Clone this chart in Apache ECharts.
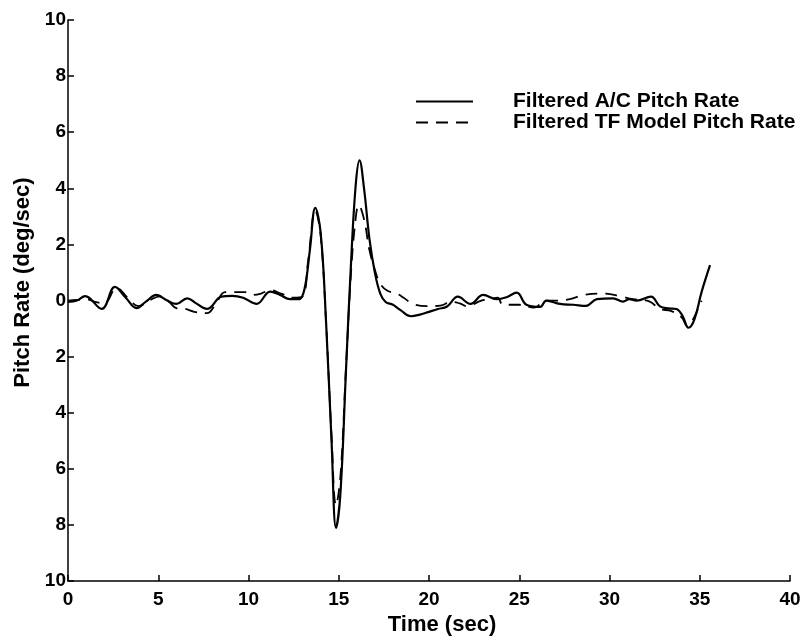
<!DOCTYPE html>
<html>
<head>
<meta charset="utf-8">
<script src="https://cdn.jsdelivr.net/npm/echarts@6/dist/echarts.min.js"></script>
<style>html,body{margin:0;padding:0;background:#fff;}#c{width:804px;height:641px;}</style>
</head>
<body>
<div id="c"></div>
<script>
const xTicks = [0, 5, 10, 15, 20, 25, 30, 35, 40];
const yTicks = [-10, -8, -6, -4, -2, 0, 2, 4, 6, 8, 10];
const seriesNames = ['Filtered A/C Pitch Rate', 'Filtered TF Model Pitch Rate'];

const acTime = [0, 0.5, 0.95, 1.87, 2.6, 3.2, 3.8, 4.3, 4.9, 5.5, 6.0, 6.6, 7.1, 7.7, 8.5, 9.1, 9.7, 10.45, 11.2, 11.75, 12.3, 12.8, 13.1, 13.4, 13.7, 14.0, 14.3, 14.6, 14.85, 15.1, 15.4, 15.7, 15.95, 16.15, 16.4, 16.7, 17.0, 17.3, 17.6, 18.0, 18.4, 19.0, 19.5, 19.9, 20.5, 21.0, 21.6, 22.3, 23.0, 23.75, 24.3, 24.86, 25.4, 26.15, 26.5, 27.26, 28.0, 28.7, 29.3, 30.2, 30.75, 31.1, 31.5, 32.3, 32.8, 33.3, 33.7, 34.05, 34.37, 34.7, 35.1, 35.57];
const acRate = [-0.05, 0.0, 0.16, -0.3, 0.49, 0.1, -0.27, -0.05, 0.2, 0.0, -0.12, 0.08, -0.1, -0.3, 0.14, 0.17, 0.1, -0.12, 0.32, 0.2, 0.05, 0.05, 0.4, 1.8, 3.3, 2.4, -0.8, -5.0, -8.1, -6.8, -2.5, 1.6, 4.2, 5.0, 4.0, 2.2, 1.0, 0.25, -0.05, -0.15, -0.33, -0.56, -0.5, -0.42, -0.3, -0.21, 0.14, -0.12, 0.2, 0.05, 0.12, 0.28, -0.15, -0.23, 0.0, -0.12, -0.15, -0.19, 0.05, 0.08, -0.04, 0.05, 0.0, 0.14, -0.21, -0.28, -0.3, -0.55, -0.97, -0.68, 0.3, 1.26];

const tfTime = [0, 0.5, 1.0, 1.5, 2.0, 2.7, 3.3, 3.9, 4.5, 5.1, 5.6, 6.0, 6.5, 7.0, 7.7, 8.2, 8.7, 9.2, 9.8, 10.2, 10.7, 11.2, 11.8, 12.5, 13.0, 13.3, 13.7, 14.0, 14.3, 14.6, 14.85, 15.1, 15.4, 15.7, 15.95, 16.1, 16.4, 16.7, 17.0, 17.3, 17.7, 18.2, 18.6, 19.1, 19.9, 20.7, 21.2, 21.7, 22.1, 22.9, 23.4, 23.8, 24.1, 25.0, 25.8, 26.5, 27.3, 27.8, 28.6, 29.4, 29.8, 30.6, 31.3, 32.2, 32.8, 33.4, 34.0, 34.3, 34.6, 34.9, 35.1];
const tfRate = [0.0, 0.02, 0.05, -0.05, -0.1, 0.45, 0.1, -0.2, 0.0, 0.15, -0.05, -0.27, -0.3, -0.4, -0.45, -0.1, 0.3, 0.3, 0.3, 0.2, 0.25, 0.37, 0.25, 0.1, 0.15, 1.4, 3.2, 2.3, -0.8, -4.8, -7.3, -6.2, -2.4, 1.2, 3.0, 3.4, 2.9, 1.8, 1.1, 0.6, 0.35, 0.25, 0.1, -0.12, -0.2, -0.17, -0.04, -0.1, -0.2, 0.0, 0.05, 0.1, -0.15, -0.15, -0.25, 0.0, 0.0, 0.05, 0.2, 0.25, 0.25, 0.15, 0.05, -0.03, -0.3, -0.37, -0.6, -0.9, -0.7, -0.3, 0.0];

const font = '"Liberation Sans", Arial, Helvetica, sans-serif';
const chart = echarts.init(document.getElementById('c'), null, {renderer: 'canvas'});
chart.setOption({
  backgroundColor: '#ffffff',
  animation: false,
  grid: {left: 68, right: 14, top: 20, bottom: 53, containLabel: false},
  legend: {
    left: 410, top: 86, orient: 'vertical', itemWidth: 57, itemHeight: 10, itemGap: 0,
    itemStyle: {opacity: 0},
    textStyle: {fontFamily: font, fontWeight: 'bold', fontSize: 21, lineHeight: 18, color: '#000', padding: [0, 0, 0, 35]},
    data: seriesNames
  },
  xAxis: {
    type: 'value', min: xTicks[0], max: xTicks[xTicks.length - 1], interval: 5,
    name: 'Time (sec)', nameLocation: 'middle', nameGap: 31,
    nameTextStyle: {fontFamily: font, fontWeight: 'bold', fontSize: 22, color: '#000', padding: [0, 0, 0, 26]},
    axisLine: {onZero: false, lineStyle: {color: '#000', width: 1.5}},
    axisTick: {inside: true, length: 6, lineStyle: {color: '#000', width: 1.5}},
    axisLabel: {fontFamily: font, fontWeight: 'bold', fontSize: 19, color: '#000', margin: 9},
    splitLine: {show: false}
  },
  yAxis: {
    type: 'value', min: yTicks[0], max: yTicks[yTicks.length - 1], interval: 2,
    name: 'Pitch Rate (deg/sec)', nameLocation: 'middle', nameGap: 34,
    nameTextStyle: {fontFamily: font, fontWeight: 'bold', fontSize: 22, color: '#000', padding: [0, 0, 0, 36]},
    axisLine: {onZero: false, lineStyle: {color: '#000', width: 1.5}},
    axisTick: {inside: true, length: 6, lineStyle: {color: '#000', width: 1.5}},
    axisLabel: {fontFamily: font, fontWeight: 'bold', fontSize: 19, color: '#000', margin: 2,
      formatter: v => String(Math.abs(v))},
    splitLine: {show: false}
  },
  series: [
    {
      name: seriesNames[0], type: 'line', smooth: 0.4, symbol: 'none', showSymbol: false,
      lineStyle: {color: '#000', width: 2.2},
      itemStyle: {color: '#000'},
      data: acTime.map((t, i) => [t, acRate[i]])
    },
    {
      name: seriesNames[1], type: 'line', smooth: 0.4, symbol: 'none', showSymbol: false,
      lineStyle: {color: '#000', width: 1.8, type: [12, 8]},
      itemStyle: {color: '#000'},
      data: tfTime.map((t, i) => [t, tfRate[i]])
    }
  ]
});
</script>
</body>
</html>
